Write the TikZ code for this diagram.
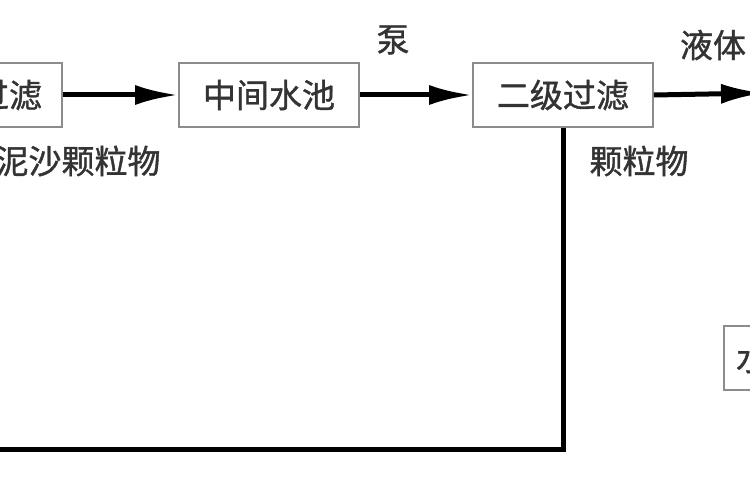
\documentclass[tikz,border=0pt]{standalone}
\usepackage{fontspec}
\newfontfamily\cjk[FakeBold=1.2]{Noto Sans CJK SC}
\usetikzlibrary{arrows.meta}
\begin{document}
\begin{tikzpicture}[x=1pt,y=-1pt,
  txt/.style={font=\cjk\fontsize{33}{33}\selectfont, text=black!80},
  box/.style={txt, draw=black!45, line width=1.8pt, minimum width=180pt, minimum height=64pt, inner sep=0pt},
  lbl/.style={txt, inner sep=0pt},
  flow/.style={line width=5pt, -{Latex[length=43pt,width=20pt]}},
  pipe/.style={line width=5pt, line join=miter}]
\useasboundingbox (0,0) rectangle (750,500);
\clip (0,0) rectangle (750,500);
\fill[white] (0,0) rectangle (750,500);
\node[box, minimum width=172pt] (f1) at (-24,95) {一级过滤};
\node[box] (pool) at (269,95) {中间水池};
\node[box] (f2) at (563,95) {二级过滤};
\node[box, minimum width=0pt, inner xsep=12pt, anchor=west] (tank) at (723,358) {水池处理};
\node[lbl] (l1) at (78,161) {泥沙颗粒物};
\node[lbl] (l2) at (639,161) {颗粒物};
\node[lbl] (l3) at (393,40) {泵};
\node[lbl] (l4) at (713,45) {液体};
\coordinate (outR) at (764,93);
\coordinate (c1) at (563,449);
\coordinate (outL) at (-10,449);
\draw[flow] (f1.east) -- (pool.west);
\draw[flow] (pool.east) -- (f2.west);
\draw[flow] (f2.east) -- (outR);
\draw[pipe] (f2.south) -- (c1) -- (outL);
\end{tikzpicture}
\end{document}
